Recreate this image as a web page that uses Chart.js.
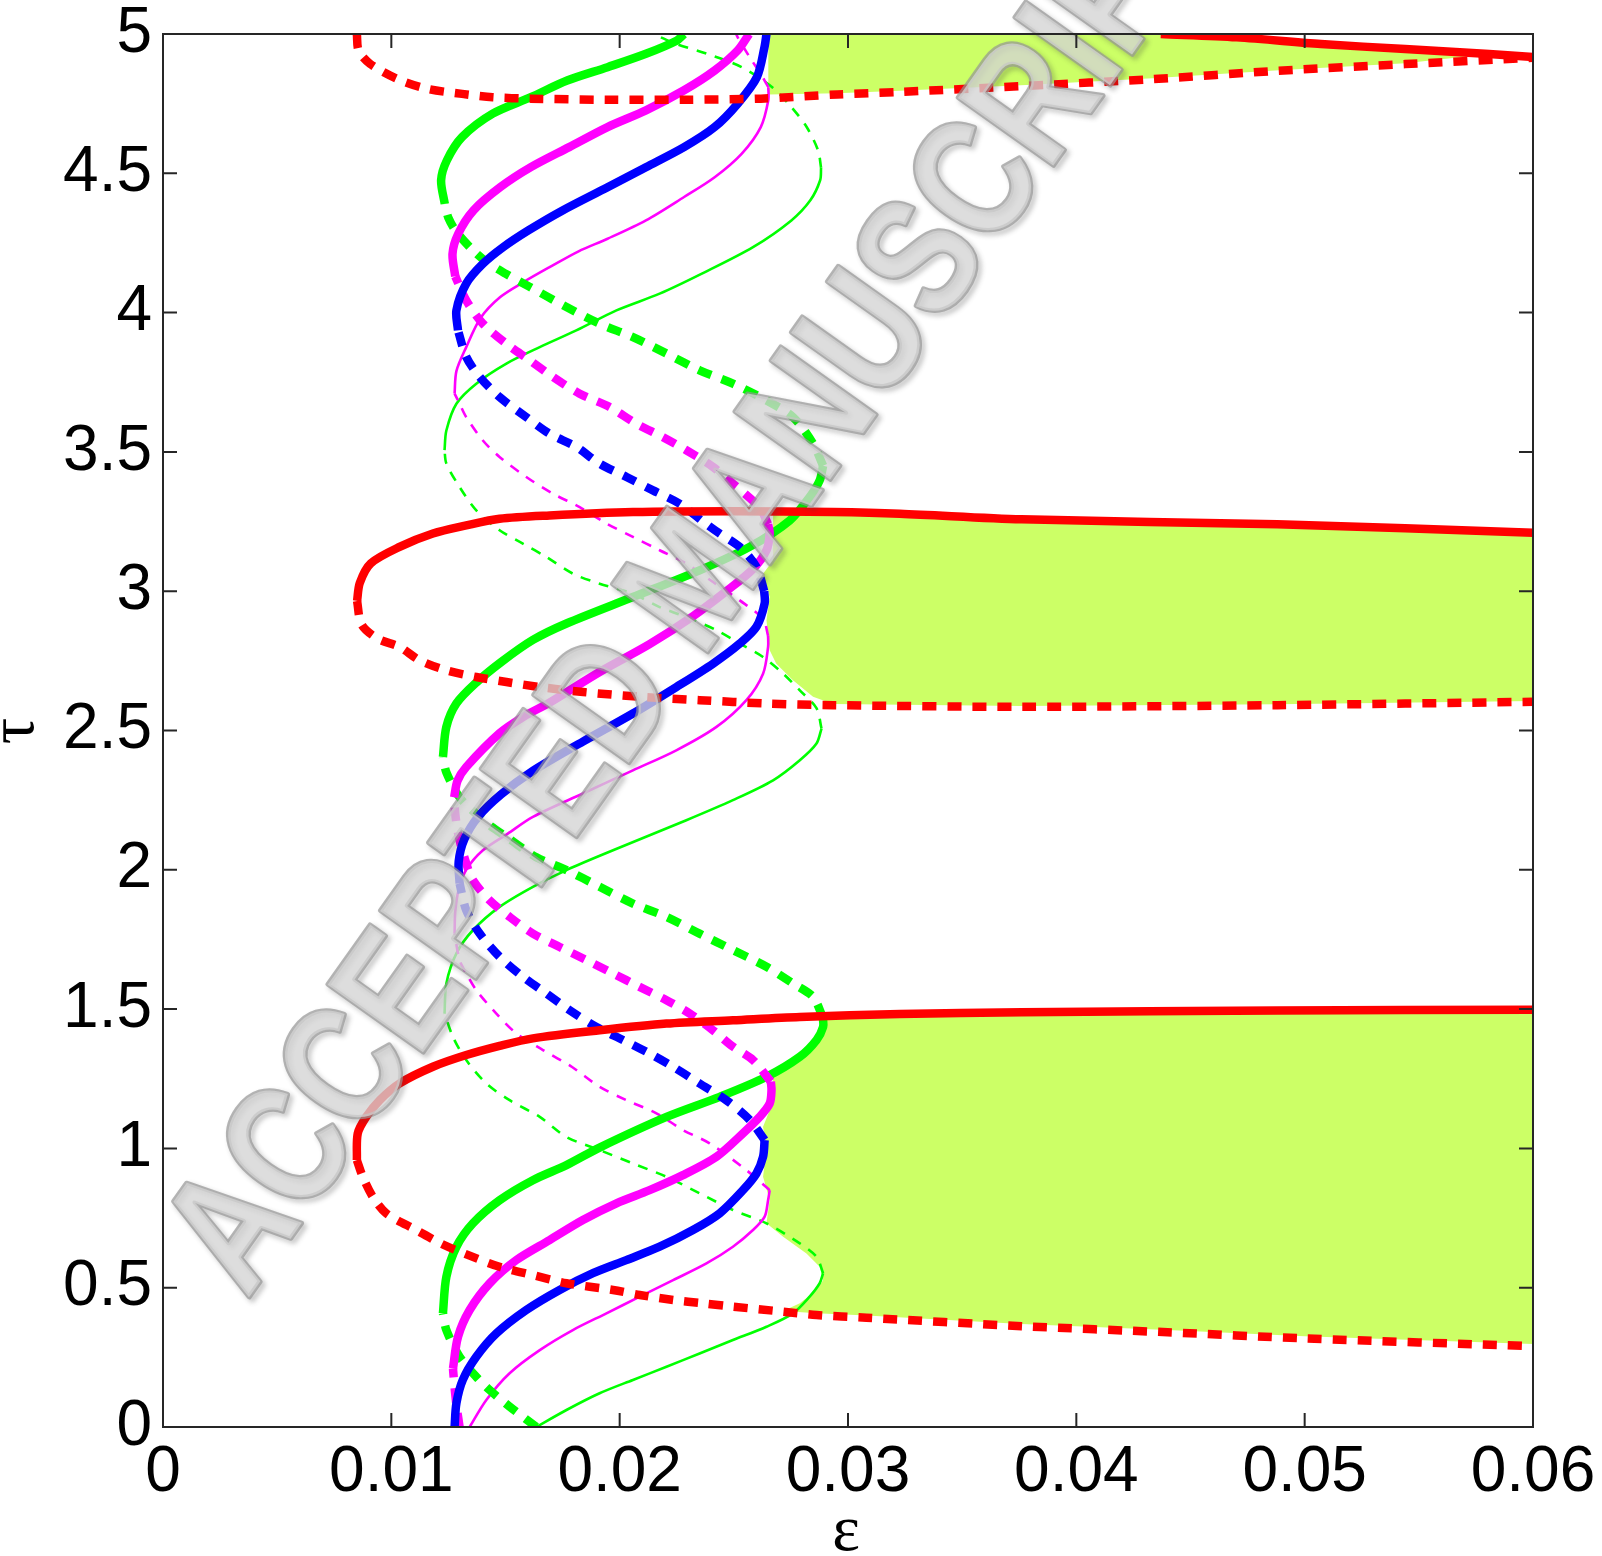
<!DOCTYPE html>
<html>
<head>
<meta charset="utf-8">
<script src="https://cdn.jsdelivr.net/npm/chart.js@4.4.1/dist/chart.umd.min.js"></script>
<style>
  html, body { margin: 0; padding: 0; background: #fff; }
  #wrap { width: 1602px; height: 1556px; }
</style>
</head>
<body>
<div id="wrap"><canvas id="chart-tau" width="1602" height="1556"></canvas></div>
<script>
// axis ticks
const xTicks = [0, 0.01, 0.02, 0.03, 0.04, 0.05, 0.06];
const yTicks = [0, 0.5, 1, 1.5, 2, 2.5, 3, 3.5, 4, 4.5, 5];

// curves, pairs of [epsilon, tau]
// red loops (solid = upper branch, dashed = lower branch)
const redSolid1 = [[0.00849,0.958],[0.00853,1.054],[0.0089,1.113],[0.00949,1.173],[0.01036,1.233],[0.01182,1.293],[0.01328,1.335],[0.01474,1.368],[0.0162,1.395],[0.01912,1.424],[0.02205,1.448],[0.02496,1.460],[0.02789,1.472],[0.03227,1.482],[0.0376,1.489],[0.0488,1.495],[0.06,1.498]];
const redDash1 = [[0.00849,0.958],[0.00875,0.898],[0.00919,0.826],[0.00978,0.767],[0.01109,0.707],[0.01226,0.655],[0.01343,0.615],[0.01474,0.575],[0.0162,0.545],[0.01767,0.516],[0.01971,0.492],[0.02088,0.474],[0.02234,0.456],[0.02365,0.444],[0.02496,0.432],[0.02716,0.414],[0.02862,0.402],[0.03081,0.392],[0.0376,0.362],[0.044,0.340],[0.05,0.318],[0.06,0.290]];
const redSolid2 = [[0.0085,2.965],[0.00862,3.03],[0.0091,3.10],[0.01036,3.159],[0.01182,3.207],[0.01328,3.236],[0.01474,3.260],[0.01693,3.272],[0.02058,3.284],[0.02496,3.287],[0.02935,3.284],[0.03227,3.278],[0.0376,3.258],[0.0488,3.240],[0.06,3.210]];
const redDash2 = [[0.0085,2.965],[0.0087,2.88],[0.0094,2.83],[0.01036,2.800],[0.01124,2.752],[0.01241,2.716],[0.01372,2.692],[0.01504,2.674],[0.0165,2.656],[0.0184,2.638],[0.02088,2.621],[0.0235,2.609],[0.02643,2.597],[0.02935,2.591],[0.0376,2.585],[0.0488,2.591],[0.06,2.603]];
const redDash3 = [[0.00849,5.0],[0.00857,4.94],[0.00907,4.893],[0.01025,4.839],[0.01159,4.803],[0.0131,4.785],[0.01444,4.773],[0.01611,4.768],[0.01947,4.764],[0.02282,4.764],[0.02618,4.768],[0.02953,4.783],[0.03227,4.792],[0.0378,4.814],[0.04333,4.838],[0.04886,4.868],[0.0544,4.892],[0.06,4.915]];
const redSolid3 = [[0.0437,5.0],[0.04702,4.988],[0.05071,4.964],[0.0544,4.946],[0.05808,4.928],[0.06,4.917]];

// thick green
const gThickDash0 = [[0.01635,0],[0.01518,0.073],[0.0143,0.133],[0.01372,0.180],[0.01299,0.252],[0.01241,0.348],[0.01226,0.408]];
const gThickSolid1 = [[0.01226,0.408],[0.01241,0.539],[0.01285,0.647],[0.01357,0.731],[0.01474,0.814],[0.0162,0.886],[0.01767,0.940],[0.01912,1.003],[0.02205,1.113],[0.02438,1.185],[0.02643,1.257],[0.02789,1.329],[0.02862,1.389],[0.02891,1.436],[0.0289,1.47]];
const gThickDash1 = [[0.0289,1.47],[0.02847,1.544],[0.02759,1.592],[0.02643,1.652],[0.02496,1.712],[0.0235,1.771],[0.02205,1.831],[0.02058,1.879],[0.01912,1.939],[0.01767,1.999],[0.01635,2.045],[0.01518,2.11],[0.0143,2.16],[0.01372,2.20],[0.01299,2.26],[0.01241,2.35],[0.01226,2.405]];
const gThickSolid2 = [[0.01226,2.405],[0.01241,2.513],[0.01285,2.597],[0.01372,2.672],[0.0148,2.745],[0.0162,2.825],[0.01767,2.884],[0.02058,2.979],[0.0235,3.075],[0.02569,3.159],[0.02745,3.254],[0.02832,3.338],[0.02876,3.398],[0.02891,3.45]];
const gThickDash2 = [[0.02891,3.45],[0.02847,3.530],[0.02759,3.625],[0.02643,3.685],[0.02496,3.745],[0.0235,3.793],[0.02205,3.853],[0.02058,3.912],[0.01912,3.960],[0.01767,4.02],[0.0160,4.095],[0.0150,4.14],[0.0142,4.18],[0.0135,4.23],[0.01285,4.29],[0.0125,4.34],[0.01234,4.39]];
const gThickSolid3 = [[0.01234,4.39],[0.01218,4.475],[0.01243,4.546],[0.0131,4.630],[0.01444,4.714],[0.01611,4.773],[0.0177,4.833],[0.01947,4.881],[0.02115,4.929],[0.02249,4.976],[0.02282,5.0]];

// thin green
const gThinSolid0 = [[0.01635,0],[0.01767,0.061],[0.01912,0.121],[0.02058,0.169],[0.02205,0.216],[0.0235,0.264],[0.02496,0.312],[0.02643,0.360],[0.02759,0.408],[0.02832,0.468],[0.02876,0.516],[0.02891,0.552]];
const gThinDash1 = [[0.02891,0.552],[0.02862,0.611],[0.02789,0.659],[0.02643,0.731],[0.02496,0.779],[0.0235,0.839],[0.02205,0.898],[0.02058,0.946],[0.01912,0.994],[0.01767,1.041],[0.0165,1.113],[0.01518,1.173],[0.01416,1.233],[0.01328,1.317],[0.0127,1.400],[0.01233,1.484]];
const gThinSolid1 = [[0.01233,1.484],[0.01241,1.592],[0.01285,1.700],[0.01357,1.783],[0.01474,1.867],[0.0162,1.939],[0.01767,1.999],[0.01971,2.070],[0.02292,2.178],[0.02496,2.250],[0.02672,2.321],[0.02789,2.393],[0.02862,2.453],[0.02884,2.507]];
const gThinDash2 = [[0.02884,2.507],[0.02862,2.58],[0.02789,2.644],[0.02716,2.704],[0.02628,2.764],[0.02526,2.812],[0.02424,2.860],[0.02292,2.907],[0.02175,2.943],[0.02058,2.991],[0.01912,3.027],[0.01795,3.063],[0.01679,3.123],[0.01576,3.171],[0.01474,3.219],[0.01372,3.290],[0.01299,3.374],[0.01241,3.458],[0.01233,3.506]];
const gThinSolid2 = [[0.01233,3.506],[0.01241,3.577],[0.01285,3.673],[0.01372,3.745],[0.01504,3.817],[0.0165,3.876],[0.0181,3.936],[0.01986,4.008],[0.02175,4.068],[0.0236,4.14],[0.02584,4.235],[0.02752,4.331],[0.02835,4.403],[0.02878,4.475],[0.02882,4.52]];
const gThinDash3 = [[0.02882,4.52],[0.02869,4.582],[0.02819,4.666],[0.02752,4.738],[0.02668,4.809],[0.02534,4.881],[0.02383,4.929],[0.02249,4.964],[0.02148,5.0]];

// thick magenta
const mThickDash0 = [[0.01299,0],[0.01285,0.08],[0.01275,0.16],[0.0127,0.21]];
const mThickSolid1 = [[0.0127,0.21],[0.01292,0.324],[0.01343,0.420],[0.01431,0.516],[0.01547,0.599],[0.01693,0.671],[0.01839,0.743],[0.01986,0.803],[0.02131,0.850],[0.02277,0.904],[0.02424,0.970],[0.0254,1.054],[0.02613,1.113],[0.02657,1.161],[0.02665,1.209],[0.02662,1.24]];
const mThickDash1 = [[0.02662,1.24],[0.02584,1.317],[0.02496,1.365],[0.02409,1.424],[0.02307,1.484],[0.02205,1.532],[0.02087,1.580],[0.01971,1.628],[0.01854,1.676],[0.01737,1.723],[0.0162,1.771],[0.01518,1.831],[0.0143,1.891],[0.01357,1.963],[0.01328,2.023],[0.01295,2.12],[0.0128,2.2],[0.01275,2.26]];
const mThickSolid2 = [[0.01275,2.26],[0.0129,2.32],[0.01328,2.369],[0.01474,2.49],[0.0158,2.55],[0.01693,2.60],[0.01912,2.71],[0.02131,2.81],[0.02321,2.91],[0.02467,3.0],[0.02584,3.08],[0.02643,3.147],[0.02657,3.207],[0.0265,3.24]];
const mThickDash2 = [[0.0265,3.24],[0.02613,3.30],[0.02496,3.386],[0.02409,3.446],[0.02292,3.506],[0.0219,3.553],[0.02073,3.601],[0.01956,3.661],[0.01825,3.709],[0.01708,3.769],[0.01606,3.829],[0.01504,3.888],[0.01401,3.960],[0.01328,4.044],[0.0128,4.13]];
const mThickSolid3 = [[0.0128,4.13],[0.01268,4.211],[0.01293,4.283],[0.0136,4.367],[0.01477,4.450],[0.01611,4.522],[0.01779,4.594],[0.01947,4.666],[0.02115,4.726],[0.02282,4.798],[0.02416,4.869],[0.02517,4.941],[0.02567,5.0]];

// thin magenta
const mThinSolid0 = [[0.01343,0],[0.01416,0.097],[0.01518,0.193],[0.0165,0.276],[0.01795,0.348],[0.01942,0.408],[0.02088,0.468],[0.02234,0.527],[0.0238,0.587],[0.02496,0.647],[0.02584,0.707],[0.02635,0.755],[0.0265,0.814],[0.02657,0.85]];
const mThinDash1 = [[0.02657,0.85],[0.02555,0.922],[0.02394,1.018],[0.02277,1.066],[0.02161,1.126],[0.0203,1.173],[0.01912,1.221],[0.0179,1.293],[0.01664,1.353],[0.01547,1.413],[0.0146,1.484],[0.01372,1.568],[0.01328,1.628],[0.01299,1.676],[0.01277,1.771]];
const mThinSolid1 = [[0.01277,1.771],[0.0128,1.85],[0.01295,1.93],[0.01328,2.0],[0.01401,2.07],[0.0151,2.13],[0.0162,2.19],[0.01839,2.274],[0.02058,2.357],[0.02248,2.429],[0.02424,2.513],[0.02555,2.609],[0.02628,2.704],[0.0265,2.800],[0.0265,2.84]];
const mThinDash2 = [[0.0265,2.84],[0.02628,2.90],[0.02526,2.967],[0.02409,3.033],[0.02292,3.099],[0.02175,3.147],[0.02058,3.195],[0.01942,3.243],[0.01825,3.302],[0.01708,3.350],[0.01591,3.410],[0.01474,3.482],[0.01401,3.541],[0.01328,3.625],[0.01299,3.673],[0.01277,3.709]];
const mThinSolid2 = [[0.01277,3.709],[0.01285,3.79],[0.01328,3.876],[0.0139,3.98],[0.01477,4.056],[0.0158,4.11],[0.01693,4.163],[0.0182,4.22],[0.01947,4.265],[0.02115,4.331],[0.02282,4.415],[0.02416,4.486],[0.02534,4.570],[0.02618,4.666],[0.02651,4.762],[0.02651,4.809]];
const mThinDash3 = [[0.02651,4.809],[0.02618,4.857],[0.0257,4.916],[0.02517,4.988],[0.0251,5.0]];

// blue
const bSolid0 = [[0.01277,0.0],[0.01285,0.085],[0.01313,0.169],[0.01372,0.252],[0.0146,0.336],[0.01591,0.420],[0.01737,0.492],[0.01883,0.552],[0.02029,0.599],[0.02175,0.647],[0.02321,0.707],[0.02438,0.767],[0.0254,0.850],[0.02599,0.910],[0.02628,0.970],[0.02635,1.03]];
const bDash1 = [[0.02635,1.03],[0.0257,1.102],[0.02467,1.173],[0.0235,1.233],[0.02234,1.293],[0.02131,1.341],[0.02014,1.389],[0.01898,1.436],[0.01781,1.496],[0.01679,1.556],[0.01576,1.616],[0.01474,1.688],[0.01387,1.771],[0.01328,1.855],[0.01299,1.951]];
const bSolid1 = [[0.01299,1.951],[0.01295,2.03],[0.0132,2.11],[0.0138,2.19],[0.0148,2.27],[0.0162,2.355],[0.01839,2.46],[0.02058,2.561],[0.02248,2.656],[0.02409,2.740],[0.02526,2.812],[0.02599,2.872],[0.02635,2.956],[0.02633,3.0]];
const bDash2 = [[0.02633,3.0],[0.02599,3.087],[0.02526,3.159],[0.02438,3.207],[0.02365,3.25],[0.02263,3.314],[0.02146,3.362],[0.0203,3.410],[0.01912,3.458],[0.0181,3.518],[0.01693,3.565],[0.01591,3.625],[0.01474,3.697],[0.01387,3.769],[0.01328,3.841],[0.01292,3.936]];
const bSolid2 = [[0.01292,3.936],[0.01285,4.008],[0.01328,4.104],[0.01401,4.175],[0.0149,4.235],[0.016,4.295],[0.01746,4.365],[0.01947,4.450],[0.02115,4.522],[0.02282,4.594],[0.02416,4.666],[0.02517,4.750],[0.02601,4.845],[0.02634,4.952],[0.02643,5.0]];

// shaded regions (outline, going round)
const fillLow = [[0.02891,1.476],[0.03227,1.482],[0.0376,1.489],[0.0488,1.495],[0.06,1.498],[0.06,0.298],[0.05,0.326],[0.044,0.348],[0.0376,0.370],[0.03081,0.400],[0.02862,0.408],[0.02716,0.416],[0.02789,0.444],[0.02862,0.492],[0.02891,0.527],[0.02876,0.575],[0.02818,0.623],[0.02716,0.683],[0.02643,0.731],[0.02657,0.814],[0.02628,0.898],[0.02643,0.994],[0.02628,1.078],[0.02657,1.137],[0.02672,1.209],[0.02672,1.257],[0.02759,1.305],[0.02847,1.365],[0.02891,1.424]];
const fillMid = [[0.02672,3.286],[0.02935,3.284],[0.03227,3.278],[0.0376,3.258],[0.0488,3.240],[0.06,3.210],[0.06,2.606],[0.0488,2.594],[0.0376,2.588],[0.02935,2.595],[0.02847,2.621],[0.02759,2.680],[0.02686,2.740],[0.02657,2.788],[0.02643,2.896],[0.02657,2.979],[0.02628,3.063],[0.02672,3.111],[0.02672,3.219]];
const fillTop = [[0.02651,5.0],[0.0437,5.0],[0.04702,4.988],[0.05071,4.964],[0.0544,4.946],[0.05808,4.928],[0.0544,4.895],[0.04886,4.870],[0.04333,4.841],[0.0378,4.817],[0.03227,4.796],[0.02953,4.787],[0.02651,4.783]];

const RED = '#ff0000', GREEN = '#00ff00', MAGENTA = '#ff00ff', BLUE = '#0000ff', SHADE = '#ccff66';

function pts(arr) {
    return arr.map(function (p) { return {x: p[0], y: p[1]}; });
}

function curve(arr, color, thick, dashed) {
    return {
        data: pts(arr),
        showLine: true,
        borderColor: color,
        borderWidth: thick ? 8.5 : 2.6,
        borderDash: dashed ? (thick ? [14, 11] : [10, 9]) : [],
        borderCapStyle: 'butt',
        pointRadius: 0,
        tension: 0.3,
        fill: false
    };
}

function shade(arr) {
    return {
        data: pts(arr),
        showLine: true,
        borderWidth: 0,
        borderColor: SHADE,
        backgroundColor: SHADE,
        pointRadius: 0,
        tension: 0,
        fill: 'shape'
    };
}

// datasets are drawn last-first, so the shades go at the end
const datasets = [
    curve(redSolid1, RED, true, false), curve(redDash1, RED, true, true),
    curve(redSolid2, RED, true, false), curve(redDash2, RED, true, true),
    curve(redSolid3, RED, true, false), curve(redDash3, RED, true, true),
    curve(bSolid0, BLUE, true, false), curve(bDash1, BLUE, true, true),
    curve(bSolid1, BLUE, true, false), curve(bDash2, BLUE, true, true),
    curve(bSolid2, BLUE, true, false),
    curve(mThickDash0, MAGENTA, true, true), curve(mThickSolid1, MAGENTA, true, false),
    curve(mThickDash1, MAGENTA, true, true), curve(mThickSolid2, MAGENTA, true, false),
    curve(mThickDash2, MAGENTA, true, true), curve(mThickSolid3, MAGENTA, true, false),
    curve(gThickDash0, GREEN, true, true), curve(gThickSolid1, GREEN, true, false),
    curve(gThickDash1, GREEN, true, true), curve(gThickSolid2, GREEN, true, false),
    curve(gThickDash2, GREEN, true, true), curve(gThickSolid3, GREEN, true, false),
    curve(mThinSolid0, MAGENTA, false, false), curve(mThinDash1, MAGENTA, false, true),
    curve(mThinSolid1, MAGENTA, false, false), curve(mThinDash2, MAGENTA, false, true),
    curve(mThinSolid2, MAGENTA, false, false), curve(mThinDash3, MAGENTA, false, true),
    curve(gThinSolid0, GREEN, false, false), curve(gThinDash1, GREEN, false, true),
    curve(gThinSolid1, GREEN, false, false), curve(gThinDash2, GREEN, false, true),
    curve(gThinSolid2, GREEN, false, false), curve(gThinDash3, GREEN, false, true),
    shade(fillLow), shade(fillMid), shade(fillTop)
];

// watermark, frame with inward ticks and the two axis symbols
const decorations = {
    id: 'decorations',
    afterDatasetsDraw: function (chart) {
        const ctx = chart.ctx;
        ctx.save();
        ctx.translate(247, 1300);
        ctx.rotate(-54.6 * Math.PI / 180);
        ctx.scale(1, 1.25);
        ctx.font = 'bold 136px "Liberation Sans", Arial, sans-serif';
        ctx.textBaseline = 'alphabetic';
        ctx.lineJoin = 'round';
        ctx.shadowColor = 'rgba(60,60,60,0.45)';
        ctx.shadowBlur = 5;
        ctx.shadowOffsetX = 3;
        ctx.shadowOffsetY = 3;
        ctx.lineWidth = 4;
        ctx.strokeStyle = 'rgba(150,150,150,0.7)';
        ctx.strokeText('ACCEPTED MANUSCRIPT', 0, 0);
        ctx.shadowColor = 'rgba(0,0,0,0)';
        ctx.fillStyle = 'rgba(212,212,212,0.78)';
        ctx.fillText('ACCEPTED MANUSCRIPT', 0, 0);
        ctx.restore();
    },
    afterDraw: function (chart) {
        const ctx = chart.ctx;
        const a = chart.chartArea;
        const xs = chart.scales.x, ys = chart.scales.y;
        ctx.save();
        ctx.strokeStyle = '#262626';
        ctx.lineWidth = 2;
        ctx.strokeRect(a.left, a.top, a.right - a.left, a.bottom - a.top);
        ctx.beginPath();
        xTicks.forEach(function (v) {
            const px = xs.getPixelForValue(v);
            ctx.moveTo(px, a.bottom); ctx.lineTo(px, a.bottom - 14);
            ctx.moveTo(px, a.top); ctx.lineTo(px, a.top + 14);
        });
        yTicks.forEach(function (v) {
            const py = ys.getPixelForValue(v);
            ctx.moveTo(a.left, py); ctx.lineTo(a.left + 14, py);
            ctx.moveTo(a.right, py); ctx.lineTo(a.right - 14, py);
        });
        ctx.stroke();

        ctx.fillStyle = '#000';
        ctx.font = '66px "Liberation Serif", "DejaVu Serif", serif';
        ctx.textAlign = 'center';
        ctx.textBaseline = 'alphabetic';
        ctx.fillText('\u03b5', 846, 1550);
        ctx.save();
        ctx.translate(33, 731);
        ctx.rotate(-Math.PI / 2);
        ctx.fillText('\u03c4', 0, 0);
        ctx.restore();
        ctx.restore();
    }
};

new Chart(document.getElementById('chart-tau'), {
    type: 'scatter',
    data: {datasets: datasets},
    options: {
        responsive: false,
        animation: false,
        devicePixelRatio: 1,
        layout: {padding: {top: 34, right: 69, bottom: 0, left: 0}},
        plugins: {legend: {display: false}, tooltip: {enabled: false}},
        scales: {
            x: {
                type: 'linear',
                min: 0,
                max: 0.06,
                grid: {display: false},
                border: {display: false},
                afterBuildTicks: function (s) { s.ticks = xTicks.map(function (v) { return {value: v}; }); },
                afterFit: function (s) { s.height = 129; },
                ticks: {
                    font: {family: '"Liberation Sans", Arial, sans-serif', size: 64, lineHeight: 1},
                    color: '#000',
                    padding: 6,
                    maxRotation: 0,
                    callback: function (v) { return v === 0 ? '0' : v.toFixed(2); }
                }
            },
            y: {
                type: 'linear',
                min: 0,
                max: 5,
                grid: {display: false},
                border: {display: false},
                afterBuildTicks: function (s) { s.ticks = yTicks.map(function (v) { return {value: v}; }); },
                afterFit: function (s) { s.width = 163; },
                ticks: {
                    font: {family: '"Liberation Sans", Arial, sans-serif', size: 64, lineHeight: 0.6},
                    color: '#000',
                    padding: 3,
                    callback: function (v) { return String(v); }
                }
            }
        }
    },
    plugins: [decorations]
});
</script>
</body>
</html>
